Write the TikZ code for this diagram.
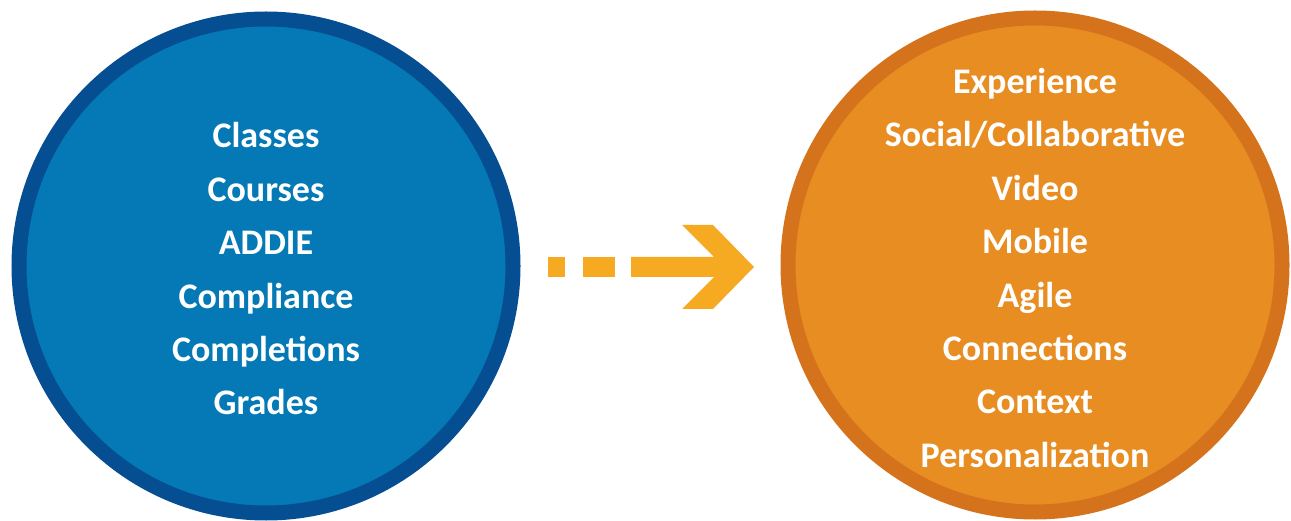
\documentclass[tikz,border=0pt]{standalone}
\usepackage{fontspec}
\setmainfont{Carlito}
\usepackage{tikz}
\usetikzlibrary{positioning}

\definecolor{oldfill}{HTML}{0479B5}
\definecolor{oldrim}{HTML}{054E91}
\definecolor{newfill}{HTML}{E88D22}
\definecolor{newrim}{HTML}{D5731D}
\definecolor{arrowcol}{HTML}{F5AA22}

\tikzset{
  bubble/.style={circle, minimum size=494pt, inner sep=0pt, line width=15pt},
  itemlist/.style={text=white, align=center, inner sep=0pt,
    font=\bfseries\fontsize{36}{53.4}\selectfont},
}

\begin{document}
\begin{tikzpicture}[x=1pt, y=-1pt]
    \useasboundingbox (0,0) rectangle (1291,521);
    % old model
    \node[bubble, draw=oldrim, fill=oldfill] (old) at (266,266) {};
    \node[itemlist] (oldlist) at ([yshift=-3pt]old.center)
        {Classes\\Courses\\ADDIE\\Compliance\\Completions\\Grades};
    % new model
    \node[bubble, draw=newrim, fill=newfill] (new) at (1035,265) {};
    \node[itemlist] (newlist) at ([yshift=-3pt]new.center)
        {Experience\\Social/Collaborative\\Video\\Mobile\\Agile\\Connections\\Context\\Personalization};

    % dashed arrow between them
    \fill[arrowcol] (548,257) rectangle (565,277);
    \fill[arrowcol] (583,257) rectangle (615,277);
    \fill[arrowcol] (631,257) -- (714,257) -- (682,225) -- (713,225) -- (754,267)
        -- (713,309) -- (682,309) -- (714,277) -- (631,277) -- cycle;
\end{tikzpicture}
\end{document}
